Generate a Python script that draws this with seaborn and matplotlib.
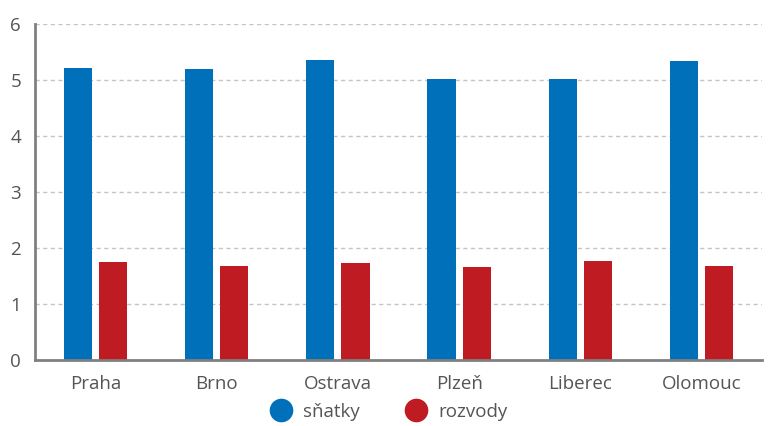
import matplotlib
matplotlib.use("Agg")
import matplotlib.pyplot as plt
from matplotlib.lines import Line2D
import seaborn as sns
import pandas as pd

cities = ["Praha", "Brno", "Ostrava", "Plzeň", "Liberec", "Olomouc"]
snatky = [5.21, 5.20, 5.36, 5.02, 5.02, 5.34]
rozvody = [1.75, 1.68, 1.74, 1.66, 1.77, 1.68]
series = ["sňatky", "rozvody"]
colors = ["#0070BA", "#BE1B22"]
yticks = [0, 1, 2, 3, 4, 5, 6]

df = pd.DataFrame({
    "city": cities * 2,
    "value": snatky + rozvody,
    "series": [series[0]] * len(cities) + [series[1]] * len(cities),
})

sns.set_theme(style="white")
plt.rcParams['font.family'] = ['Open Sans', 'DejaVu Sans']

fig = plt.figure(figsize=(7.68, 4.26), dpi=100)
ax = fig.add_axes([35/768, 66/426, (762-35)/768, (360-24)/426])

sns.barplot(data=df, x="city", y="value", hue="series", palette=colors,
            width=0.58, gap=0.2, ax=ax, legend=False, saturation=1,
            edgecolor="none")

ax.set_xlim(-0.5, 5.5)
ax.set_ylim(0, 6)
ax.set_yticks(yticks)
ax.set_yticklabels([str(t) for t in yticks])
ax.set_xlabel("")
ax.set_ylabel("")
ax.yaxis.grid(True, color="#C4C4C4", linestyle=(0, (3, 2.5)), linewidth=1)
ax.set_axisbelow(True)
for s in ["top", "right"]:
    ax.spines[s].set_visible(False)
for s in ["left", "bottom"]:
    ax.spines[s].set_color("#808080")
    ax.spines[s].set_linewidth(2)
ax.tick_params(axis="both", length=0, labelsize=13.5, labelcolor="#555555")
ax.tick_params(axis="x", pad=11)
ax.tick_params(axis="y", pad=10)

handles = [Line2D([0], [0], marker="o", linestyle="none", markersize=16,
                  markerfacecolor=c, markeredgecolor=c) for c in colors]
fig.legend(handles, series, loc="center", bbox_to_anchor=(385/768, 1 - 412/426),
           ncol=2, frameon=False, fontsize=13.5, handletextpad=0.2,
           columnspacing=2.0, labelcolor="#555555")

fig.savefig("out.png", dpi=100)
